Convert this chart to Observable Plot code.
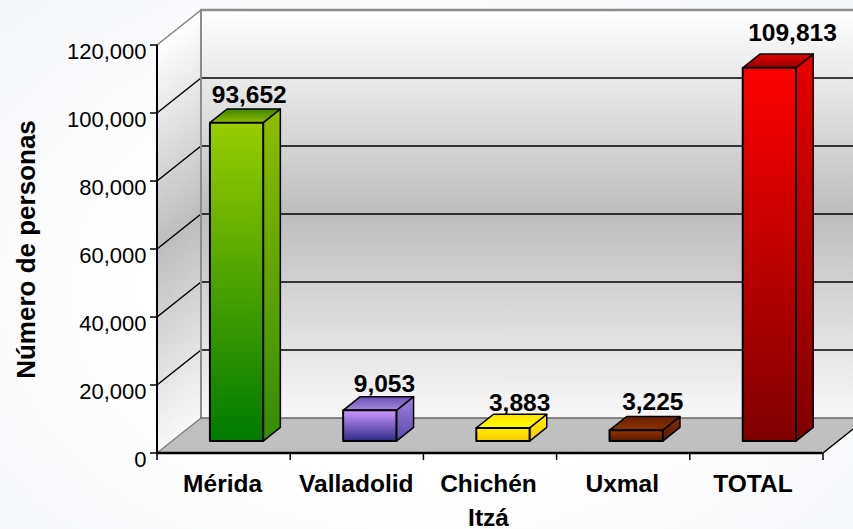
<!DOCTYPE html>
<html><head><meta charset="utf-8">
<script src="https://cdn.jsdelivr.net/npm/d3@7"></script>
<script src="https://cdn.jsdelivr.net/npm/@observablehq/plot@0.6"></script>
<style>
html,body{margin:0;padding:0;width:853px;height:529px;overflow:hidden;
background:radial-gradient(ellipse at 50% 55%,#ffffff 45%,#f5f6f8 100%);}
svg{display:block}
</style></head><body>
<script>
const categories = ["Mérida", "Valladolid", "Chichén\nItzá", "Uxmal", "TOTAL"];
const values = [93652, 9053, 3883, 3225, 109813];
const valueLabels = ["93,652", "9,053", "3,883", "3,225", "109,813"];
const yTicks = [0, 20000, 40000, 60000, 80000, 100000, 120000];
const xTicks = [0, 1, 2, 3, 4, 5];
const yTitle = "Número de personas";

// [front top, front bottom, side top, side bottom, roof back, roof front]
const palettes = [
  ["#99cc00", "#007a00", "#8fbc00", "#338c00", "#3f8500", "#8fbb00"],
  ["#cc99ff", "#2e2a85", "#a080e0", "#5a48a8", "#6a50b0", "#a88ae0"],
  ["#ffee00", "#ffcc00", "#ffee00", "#ffcc00", "#ffe000", "#ffff00"],
  ["#993300", "#551a00", "#7f2c00", "#5a1c00", "#6b2000", "#8a3300"],
  ["#ff0000", "#7f0000", "#e80000", "#7f0000", "#e00000", "#990000"]
];
const labelDx = [-4.5, -2.5, -0.5, -0.5, 6];
const labelDy = [-6, -4.5, -3.5, -6, -13];
const catDx = [-1, -0.5, -1.5, -1, -3.5];

// oblique projection: a depth z in [0,1] shifts a point along x and y, in data units
const depthX = 0.3303, depthY = 10294;
const P = (c, v, z) => ({x: c + z * depthX, y: v + z * depthY});
const face = (pts, fill, stroke, strokeWidth = 1.5) =>
  Plot.line(pts, {x: "x", y: "y", fill, stroke, strokeWidth, curve: "linear-closed", strokeLinejoin: "round"});
const seg = (a, b, stroke, strokeWidth) =>
  Plot.line([a, b], {x: "x", y: "y", stroke, strokeWidth});

function grad(defs, id, stops, vec = {x1: 0, y1: 0, x2: 0, y2: 1}) {
  const g = defs.append("linearGradient").attr("id", id);
  for (const k in vec) g.attr(k, vec[k]);
  stops.forEach(([o, c]) => g.append("stop").attr("offset", o).attr("stop-color", c));
}
const defsMark = () => {
  const defs = d3.create("svg:defs");
  const wall = [[0, "#ffffff"], [0.5, "#bdbdbd"], [1, "#f8f8f8"]];
  grad(defs, "wall", wall);
  grad(defs, "wallL", wall, {x1: 0, y1: 0.079, x2: 0.0723, y2: 0.9945});
  palettes.forEach((p, i) => {
    grad(defs, `f${i}`, [[0, p[0]], [1, p[1]]]);
    grad(defs, `s${i}`, [[0, p[2]], [1, p[3]]]);
    grad(defs, `t${i}`, [[0, p[4]], [1, p[5]]]);
  });
  return defs.node();
};

const L = 0.285, R = 0.685, Z0 = 0.34, Z1 = 0.73;
const barMarks = values.flatMap((v, i) => {
  const a = i + L, b = i + R;
  return [
    face([P(b, 0, Z0), P(b, 0, Z1), P(b, v, Z1), P(b, v, Z0)], `url(#s${i})`, "#000"),
    face([P(a, v, Z0), P(a, v, Z1), P(b, v, Z1), P(b, v, Z0)], `url(#t${i})`, "#000"),
    face([P(a, 0, Z0), P(b, 0, Z0), P(b, v, Z0), P(a, v, Z0)], `url(#f${i})`, "#000", 2)
  ];
});
const labelMarks = values.map((v, i) => {
  const q = P(i + (L + R) / 2, v, Z1);
  return Plot.text([valueLabels[i]], {
    x: () => q.x, y: () => q.y, text: d => d, dx: labelDx[i], dy: labelDy[i],
    lineAnchor: "bottom", fontSize: 24.5, fontWeight: "bold", fill: "#000"
  });
});
const catMarks = categories.map((c, i) => Plot.text([c], {
  x: () => i + 0.5, y: () => 0, text: d => d, dx: catDx[i], dy: 14.5, lineAnchor: "top",
  lineHeight: 1.39, fontSize: 24.5, fontWeight: "bold", fill: "#000"
}));

const yMax = yTicks[yTicks.length - 1], last = xTicks[xTicks.length - 1];
const plot = Plot.plot({
  width: 853, height: 529,
  marginLeft: 157, marginRight: 30, marginTop: 45, marginBottom: 76,
  style: {background: "transparent", fontFamily: "'Liberation Sans', Arial, sans-serif"},
  x: {type: "linear", domain: [0, last], range: [156.5, 822.5], axis: null},
  y: {type: "linear", domain: [0, yMax], range: [452.5, 44.5], axis: null},
  marks: [
    defsMark,
    face([P(0, 0, 1), P(last, 0, 1), P(last, yMax, 1), P(0, yMax, 1)], "url(#wall)", "none"),
    face([P(0, 0, 0), P(0, 0, 1), P(0, yMax, 1), P(0, yMax, 0)], "url(#wallL)", "none"),
    face([P(0, 0, 0), P(last, 0, 0), P(last, 0, 1), P(0, 0, 1)], "#c0c0c0", "none"),
    ...yTicks.slice(1, -1).flatMap(t => [
      seg(P(0, t, 0), P(0, t, 1), "#000", 1.5),
      seg(P(0, t, 1), P(last, t, 1), "#000", 1.5)
    ]),
    seg(P(0, yMax, 1), P(last, yMax, 1), "#8c8c8c", 2.5),
    seg(P(0, 0, 1), P(0, yMax, 1), "#8c8c8c", 2),
    seg(P(0, yMax, 0), P(0, yMax, 1), "#808080", 1.5),
    seg(P(0, 0, 0), P(0, 0, 1), "#808080", 1.5),
    seg(P(0, 0, 1), P(last, 0, 1), "#666666", 1.5),
    seg(P(last, 0, 0), P(last, 0, 1), "#000", 1.5),
    ...barMarks,
    Plot.ruleX([0], {y1: 0, y2: yMax, stroke: "#000", strokeWidth: 2}),
    Plot.ruleY([0], {x1: 0, x2: last, stroke: "#000", strokeWidth: 2.5}),
    Plot.axisY(yTicks, {anchor: "left", tickSize: 7, fill: "none", stroke: "#000", strokeWidth: 1.5, label: null}),
    Plot.text(yTicks, {x: () => 0, y: d => d, text: d3.format(","), textAnchor: "end", dx: -10.5, dy: 7, fontSize: 22, fill: "#000"}),
    Plot.axisX(xTicks, {anchor: "bottom", tickSize: 7, fill: "none", stroke: "#000", strokeWidth: 1.5, label: null}),
    ...labelMarks,
    ...catMarks,
    Plot.text([yTitle], {frameAnchor: "left", text: d => d, textAnchor: "middle", rotate: -90, dx: -131, fontSize: 26, fontWeight: "bold", fill: "#000"})
  ]
});
document.body.appendChild(plot);
</script></body></html>
